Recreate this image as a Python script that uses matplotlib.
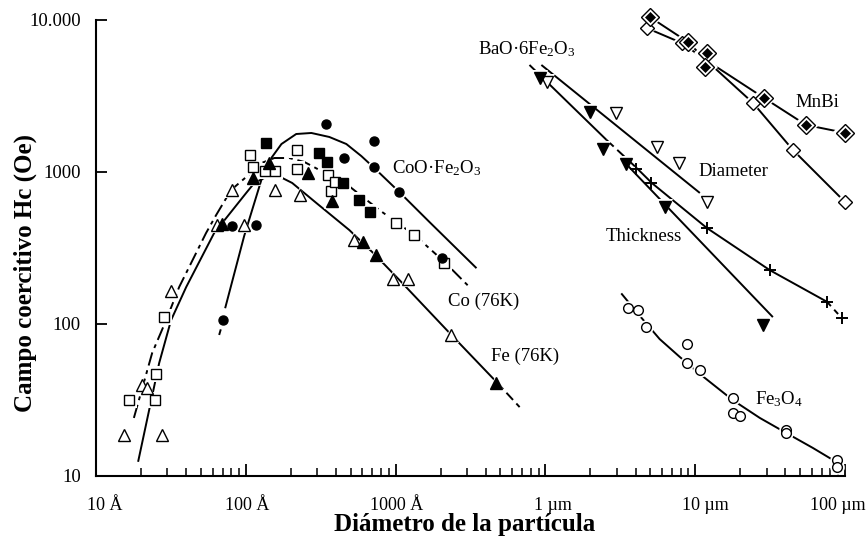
import matplotlib
matplotlib.use("Agg")
import matplotlib.pyplot as plt
from matplotlib.ticker import FixedLocator, FixedFormatter, LogLocator, NullFormatter, NullLocator
from matplotlib.transforms import ScaledTranslation

plt.rcParams['font.family'] = ['Liberation Serif', 'DejaVu Serif']
plt.rcParams['mathtext.fontset'] = 'custom'
plt.rcParams['mathtext.rm'] = 'Liberation Serif'
plt.rcParams['mathtext.it'] = 'Liberation Serif:italic'
plt.rcParams['mathtext.bf'] = 'Liberation Serif:bold'

UM = 1e4  # Ångström per micrometre

# ---------------- CoO·Fe2O3 (diameters in Å, Hc in Oe) ----------------
coo_d = [70.6, 81, 117, 343, 450, 721, 721, 1050, 2030]
coo_hc = [106, 440, 448, 2070, 1231, 1607, 1075, 738, 271]
coo_curve_d = [72.8, 97.5, 127, 148, 173, 217, 274, 361, 469, 590, 721, 1059, 1682, 3467]
coo_curve_hc = [127, 379, 886, 1236, 1528, 1778, 1806, 1700, 1528, 1274, 1062, 738, 469, 233]
coo_stub_d = [66.4, 68.5]
coo_stub_hc = [84.7, 94.2]

# ---------------- Co (76K) ----------------
co_open_d = [16.6, 24.8, 25.0, 28.3, 107, 112, 134, 157, 218, 218, 352, 371, 395, 1007, 1321, 2118]
co_open_hc = [31.6, 31.6, 46.9, 112, 1295, 1084, 1021, 1021, 1396, 1042, 955, 753, 863, 463, 386, 251]
co_fill_d = [137, 306, 346, 443, 573, 676]
co_fill_hc = [1545, 1327, 1170, 851, 655, 548]
co_curve_d = [17.9, 23.7, 29.4, 35.9, 54.3, 63.4, 79.8, 100.6, 127, 155, 195, 246, 310, 469, 779, 1337, 2120, 3112]
co_curve_hc = [24.1, 64.4, 106, 175, 397, 521, 762, 927, 1145, 1236, 1236, 1164, 1031, 834, 562, 385, 256, 175]

# ---------------- Fe (76K) ----------------
fe_open_d = [15.4, 27.7, 20.2, 22.0, 31.7, 64, 97.5, 81.5, 157, 230, 531, 967, 1205, 2350]
fe_open_hc = [18.6, 18.6, 39.7, 37.9, 165, 448, 448, 762, 762, 706, 357, 198, 198, 84.7]
fe_fill_d = [69.5, 112, 143, 261, 376, 610, 741, 4700]
fe_fill_hc = [455, 910, 1140, 980, 647, 348, 284, 41.1]
fe_curve_d = [19.1, 26.4, 31.7, 40, 61.5, 74, 100.6, 114, 137, 175, 204, 296, 491, 733, 1059, 2291, 4720]
fe_curve_hc = [12.4, 55.3, 106, 175, 397, 498, 728, 847, 927, 914, 847, 625, 415, 284, 195, 87.3, 41.5]
fe_tail_d = [4720, 6730]
fe_tail_hc = [41.5, 28.4]

# ---------------- BaO·6Fe2O3 (diameters in µm) ----------------
bao_diam_um = [1.02, 2.94, 5.53, 7.76, 11.97]
bao_diam_hc = [3910, 2440, 1460, 1145, 635]
bao_diam_line_um = [0.94, 10.74]
bao_diam_line_hc = [5060, 728]

bao_thick_um = [0.914, 1.98, 2.41, 3.47, 6.31, 28.3]
bao_thick_hc = [4150, 2480, 1416, 1130, 589, 98.4]
bao_thick_line_um = [3.57, 33.0]
bao_thick_line_hc = [1094, 111]

bao_plus_um = [4.05, 5.10, 11.9, 31.5, 75.4, 95.0]
bao_plus_hc = [1047, 844, 427, 226, 140, 109]
bao_upper_um = [0.783, 2.56]
bao_upper_hc = [5060, 1625]
bao_link_um = [2.56, 4.07]
bao_link_hc = [1625, 1062]
bao_plus_line_um = [4.07, 5.13, 11.97, 31.5, 75.8]
bao_plus_line_hc = [1062, 847, 428, 226, 140]
bao_plus_tail_um = [75.8, 95.5]
bao_plus_tail_hc = [140, 109]

# ---------------- MnBi (µm) ----------------
mnbi_fill_um = [4.98, 8.93, 11.97, 11.6, 28.8, 54.9, 100]
mnbi_fill_hc = [10460, 7170, 6070, 4910, 3070, 2040, 1810]
mnbi_open_um = [4.74, 8.13, 24.3, 44.9, 100]
mnbi_open_hc = [8860, 7060, 2850, 1397, 635]
mnbi_fill_line_um = [4.98, 8.93, 11.78, 28.8, 54.9, 100]
mnbi_fill_line_hc = [10460, 7170, 5455, 3070, 2040, 1810]
mnbi_open_line_um = [4.74, 8.13, 11.78, 24.3, 44.9, 100]
mnbi_open_line_hc = [8860, 7060, 5455, 2850, 1397, 635]

# ---------------- Fe3O4 (µm) ----------------
fe3o4_um = [3.56, 4.15, 4.68, 8.75, 8.75, 10.7, 17.8, 17.8, 19.9, 40.1, 40.1, 88.9, 88.9]
fe3o4_hc = [127, 124, 96, 73.4, 55.1, 49.8, 32.7, 26.1, 24.8, 20.1, 19.2, 12.7, 11.5]
fe3o4_line_um = [3.21, 4.27, 5.79, 7.89, 10.74, 17.8, 27.0, 40.5, 61.0, 83.6]
fe3o4_line_hc = [159, 113, 79.6, 60.7, 46.9, 31.6, 24.1, 19.2, 15.3, 12.7]

# ---------------- axes ----------------
x_ticks = [10, 100, 1000, 1e4, 1e5, 1e6]
x_ticklabels = ['10 Å', '100 Å', '1000 Å', '1 µm', '10 µm', '100 µm']
y_ticks = [10, 100, 1000, 10000]
y_ticklabels = ['10', '100', '1000', '10.000']


def um(vals):
    return [v * UM for v in vals]


fig = plt.figure(figsize=(8.68, 5.42), dpi=100)
ax = fig.add_axes([96 / 868, 66 / 542, 749 / 868, 456 / 542])
ax.set_xscale('log')
ax.set_yscale('log')
ax.set_xlim(10, 1e6)
ax.set_ylim(10, 1e4)

LW = 1.4
line_kw = dict(color='black', lw=LW, zorder=2, solid_capstyle='butt', solid_joinstyle='round')


def curve(x, y, **kw):
    opts = dict(line_kw)
    opts.update(kw)
    ax.plot(x, y, **opts)


def points(x, y, marker, ms, filled, mew=1.0):
    # white halo leaves a small gap in the fitted lines around each symbol
    ax.plot(x, y, ls='none', marker=marker, ms=ms + 3.5, mfc='white', mec='white',
            mew=0, zorder=3, clip_on=False)
    ax.plot(x, y, ls='none', marker=marker, ms=ms, mfc='black' if filled else 'white',
            mec='black', mew=mew, zorder=4, clip_on=False)


# fitted curves
curve(coo_curve_d, coo_curve_hc)
curve(coo_stub_d, coo_stub_hc, dashes=(3, 2))
curve(co_curve_d, co_curve_hc, dashes=(7, 2.5, 2, 2.5))
curve(fe_curve_d, fe_curve_hc)
curve(fe_tail_d, fe_tail_hc, dashes=(5, 2.5))

curve(um(bao_diam_line_um), bao_diam_line_hc)
curve(um(bao_thick_line_um), bao_thick_line_hc)
curve(um(bao_upper_um), bao_upper_hc)
curve(um(bao_link_um), bao_link_hc, dashes=(5, 2.5))
curve(um(bao_plus_line_um), bao_plus_line_hc)
curve(um(bao_plus_tail_um), bao_plus_tail_hc, dashes=(3, 2.5))

curve(um(mnbi_fill_line_um), mnbi_fill_line_hc)
curve(um(mnbi_open_line_um), mnbi_open_line_hc)
curve(um(fe3o4_line_um), fe3o4_line_hc)

# measured points
points(co_open_d, co_open_hc, 's', 7.5, False)
points(co_fill_d, co_fill_hc, 's', 7.5, True)
points(fe_open_d, fe_open_hc, '^', 8.5, False)
points(fe_fill_d, fe_fill_hc, '^', 8.5, True)
points(coo_d, coo_hc, 'o', 6.5, True)

points(um(bao_diam_um), bao_diam_hc, 'v', 8, False)
points(um(bao_thick_um), bao_thick_hc, 'v', 8, True)
points(um(bao_plus_um), bao_plus_hc, '+', 8, False, mew=1.4)

points(um(mnbi_open_um), mnbi_open_hc, 'D', 7, False)
points(um(mnbi_fill_um), mnbi_fill_hc, 'D', 9.5, False)
ax.plot(um(mnbi_fill_um), mnbi_fill_hc, ls='none', marker='D', ms=5.5, mfc='black',
        mec='black', mew=0.5, zorder=5, clip_on=False)

points(um(fe3o4_um), fe3o4_hc, 'o', 7, False)

# series labels
txt = dict(fontsize=13.5, ha='left', va='center', zorder=6)
ax.text(952, 1062, 'CoO·Fe$_2$O$_3$', **txt)
ax.text(2254, 140, 'Co (76K)', **txt)
ax.text(4306, 61.5, 'Fe (76K)', **txt)
ax.text(3573, 6440, 'BaO·6Fe$_2$O$_3$', **txt)
ax.text(105700, 1000, 'Diameter', **txt)
ax.text(25230, 379, 'Thickness', **txt)
ax.text(463400, 2845, 'MnBi', **txt)
ax.text(250000, 32.1, 'Fe$_3$O$_4$', **txt)

# spines and ticks
for side in ('top', 'right'):
    ax.spines[side].set_visible(False)
for side in ('left', 'bottom'):
    ax.spines[side].set_linewidth(1.5)

ax.xaxis.set_major_locator(FixedLocator(x_ticks))
ax.xaxis.set_major_formatter(FixedFormatter(x_ticklabels))
ax.xaxis.set_minor_locator(LogLocator(base=10, subs=range(2, 10), numticks=20))
ax.xaxis.set_minor_formatter(NullFormatter())
ax.yaxis.set_major_locator(FixedLocator(y_ticks))
ax.yaxis.set_major_formatter(FixedFormatter(y_ticklabels))
ax.yaxis.set_minor_locator(NullLocator())

ax.tick_params(axis='x', which='major', direction='in', length=9, width=1.3,
               labelsize=13, pad=15)
ax.tick_params(axis='x', which='minor', direction='in', length=5.5, width=1.1)
ax.tick_params(axis='y', which='major', direction='in', length=8, width=1.3,
               labelsize=13.5, pad=11)

label_shift_px = [9, 1, 1, 8, 10, -7]
for lab, dx in zip(ax.get_xticklabels(), label_shift_px):
    lab.set_transform(lab.get_transform() + ScaledTranslation(dx / 100, 0, fig.dpi_scale_trans))

fig.text(464.5 / 868, 1 - 524 / 542, 'Diámetro de la partícula', fontsize=18,
         fontweight='bold', ha='center', va='center')
fig.text(25 / 868, 1 - 273 / 542, 'Campo coercitivo Hc (Oe)', fontsize=18,
         fontweight='bold', ha='center', va='center', rotation=90)

fig.savefig('out.png', dpi=100)
